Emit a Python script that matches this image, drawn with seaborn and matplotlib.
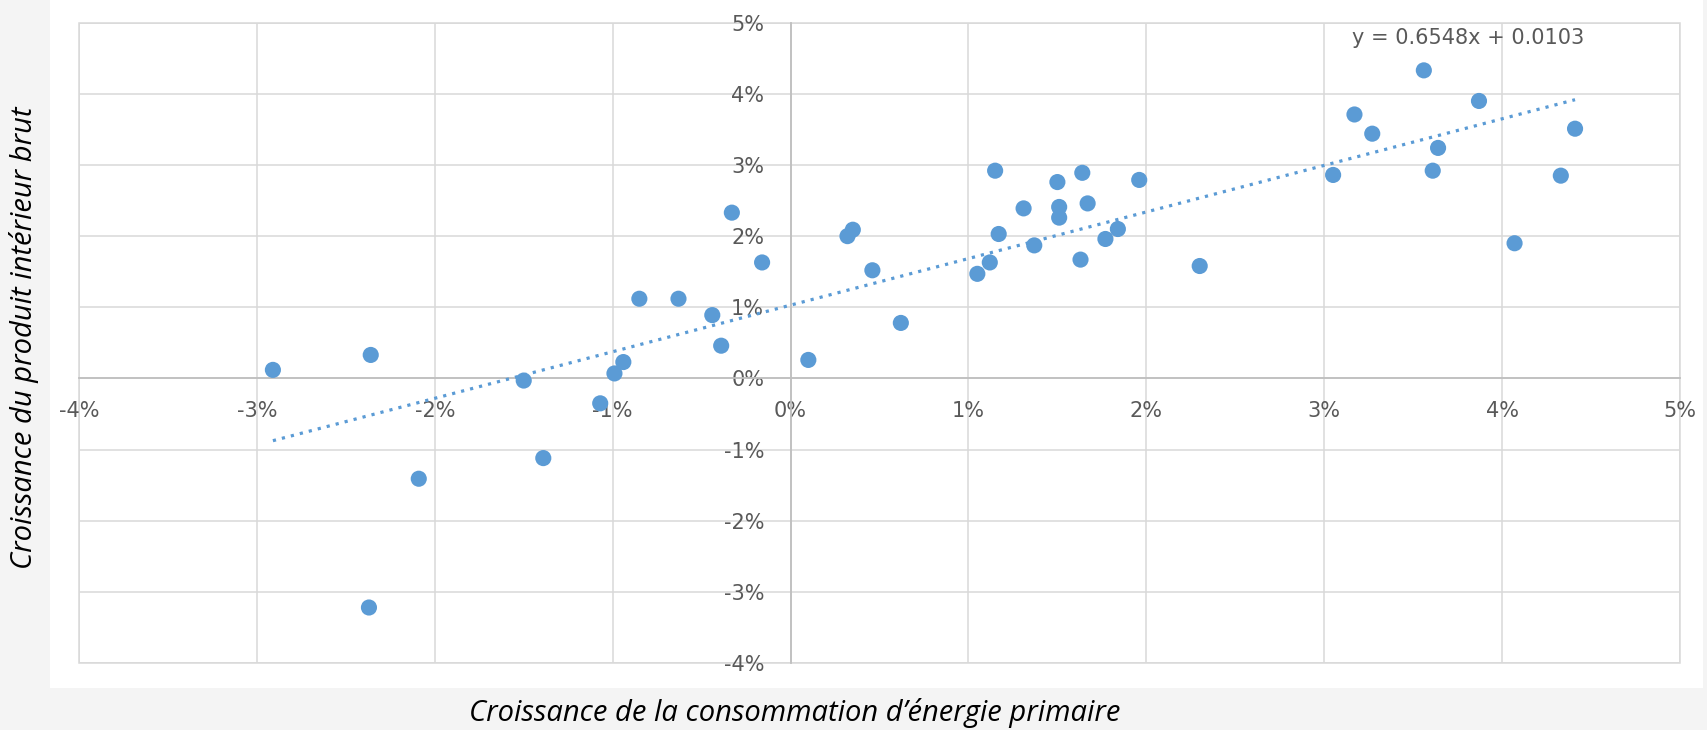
import numpy as np
import pandas as pd
import seaborn as sns
import matplotlib.pyplot as plt
from matplotlib.patches import Rectangle

# growth of primary energy consumption (%) and GDP growth (%)
energie = [-2.91, -2.36, -2.37, -2.09, -1.50, -1.39, -1.07, -0.99, -0.94, -0.85,
           -0.63, -0.44, -0.39, -0.33, -0.16, 0.10, 0.32, 0.35, 0.46, 0.62,
           1.05, 1.12, 1.15, 1.17, 1.31, 1.37, 1.50, 1.51, 1.51, 1.63,
           1.64, 1.67, 1.77, 1.84, 1.96, 2.30, 3.05, 3.17, 3.27, 3.56,
           3.61, 3.64, 3.87, 4.07, 4.33, 4.41]
pib = [0.12, 0.33, -3.22, -1.41, -0.03, -1.12, -0.35, 0.07, 0.23, 1.12,
       1.12, 0.89, 0.46, 2.33, 1.63, 0.26, 2.00, 2.09, 1.52, 0.78,
       1.47, 1.63, 2.92, 2.03, 2.39, 1.87, 2.76, 2.41, 2.26, 1.67,
       2.89, 2.46, 1.96, 2.10, 2.79, 1.58, 2.86, 3.71, 3.44, 4.33,
       2.92, 3.24, 3.90, 1.90, 2.85, 3.51]

# trendline from the chart's equation (fractions -> percent)
pente = 0.6548
ordonnee = 0.0103

ticks = [-4, -3, -2, -1, 0, 1, 2, 3, 4, 5]
tick_labels = [f'{t}%' for t in ticks]

df = pd.DataFrame({'energie': energie, 'pib': pib})
x_tend = np.array([min(energie), max(energie)])
tend = pd.DataFrame({'x': x_tend, 'y': pente * x_tend + ordonnee * 100})

sns.set_theme(style='white')
plt.rcParams['font.family'] = ['DejaVu Sans']

fig = plt.figure(figsize=(17.07, 7.30), dpi=100, facecolor='#f4f4f4')
# white chart box behind the axes
fig.patches.append(Rectangle((50 / 1707, 42 / 730), 1653 / 1707, 688 / 730,
                             transform=fig.transFigure, facecolor='white',
                             edgecolor='none', zorder=-10))
ax = fig.add_axes([79 / 1707, 67 / 730, 1601 / 1707, 640.3 / 730])
ax.set_facecolor('white')

blue = '#5b9bd5'
sns.lineplot(data=tend, x='x', y='y', ax=ax, color=blue, linewidth=2.3,
             dashes=False, zorder=3)
ax.lines[-1].set_linestyle((0, (1, 1.9)))
sns.scatterplot(data=df, x='energie', y='pib', ax=ax, color=blue, s=135,
                edgecolor='none', zorder=4)

ax.set_xlim(-4, 5)
ax.set_ylim(-4, 5)
ax.set_xticks(ticks)
ax.set_yticks(ticks)
ax.set_xticklabels(tick_labels)
ax.set_yticklabels(tick_labels)
ax.grid(True, color='#d9d9d9', linewidth=1.1)
ax.patch.set_edgecolor('#d9d9d9')
ax.patch.set_linewidth(1.1)

ax.spines['left'].set_position(('data', 0))
ax.spines['bottom'].set_position(('data', 0))
for s in ['left', 'bottom']:
    ax.spines[s].set_color('#bfbfbf')
    ax.spines[s].set_linewidth(1.3)
    ax.spines[s].set_zorder(2)
for s in ['top', 'right']:
    ax.spines[s].set_visible(False)

ax.tick_params(axis='both', length=0, labelsize=15, labelcolor='#595959')
ax.tick_params(axis='x', pad=16)
ax.tick_params(axis='y', pad=19)

ax.set_xlabel('')
ax.set_ylabel('')
fig.text(795 / 1707, 1 - 713 / 730, 'Croissance de la consommation d\u2019\u00e9nergie primaire',
         family='Open Sans', style='italic', fontsize=21, ha='center', va='center',
         color='black')
fig.text(24 / 1707, 1 - 338 / 730, 'Croissance du produit int\u00e9rieur brut',
         family='Open Sans', style='italic', fontsize=21, ha='center', va='center',
         rotation=90, color='black')

ax.text(0.8676, 0.976, f'y = {pente}x + {ordonnee}', transform=ax.transAxes,
        ha='center', va='center', fontsize=15, color='#595959')

fig.savefig('out.png', dpi=100, facecolor=fig.get_facecolor())
